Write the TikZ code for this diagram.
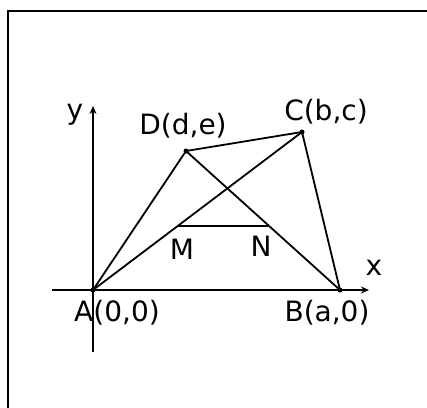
\documentclass[tikz,border=0pt]{standalone}
\usepackage{fontspec}
\setmainfont{DejaVu Sans}
\usetikzlibrary{arrows.meta, positioning}

\begin{document}
\begin{tikzpicture}[x=1pt, y=-1pt, >={Stealth[length=8pt, width=7pt]},
    edge/.style={line width=1.8pt},
    axis/.style={line width=2.2pt},
    lbl/.style={font=\fontsize{28}{30}\selectfont, inner sep=0pt}]

    % --- Canvas and frame ---
    \useasboundingbox (0,0) rectangle (427,407);
    \clip (0,0) rectangle (427,407);
    \draw[line width=1.8pt] (8,11) rectangle (440,420);

    % --- Points ---
    \coordinate (A) at (93,290);
    \coordinate (B) at (340,290);
    \coordinate (C) at (302,132);
    \coordinate (D) at (186,151);
    \coordinate (M) at (178,226);
    \coordinate (N) at (268,226);

    % --- Axes ---
    \coordinate (xl) at (52,290);
    \coordinate (xr) at (369,290);
    \coordinate (yb) at (93,352);
    \coordinate (yt) at (93,106);
    \draw[axis, ->] (xl) -- (xr);
    \draw[axis, ->] (yb) -- (yt);
    \node[lbl] (ylab) at (75,115) {y};
    \node[lbl] (xlab) at (374,268) {x};

    % --- Quadrilateral and diagonals ---
    \draw[edge] (A) -- (D) -- (C) -- (B);
    \draw[edge] (A) -- (C);
    \draw[edge] (D) -- (B);
    \draw[edge] (M) -- (N);

    % Vertex dots
    \foreach \p in {A, B, C, D} {
      \fill (\p) circle (2.5pt);
    }

    % --- Labels ---
    \node[lbl] (Alab) at (117,313) {A(0,0)};
    \node[lbl] (Blab) at (327,313) {B(a,0)};
    \node[lbl] (Clab) at (326,112) {C(b,c)};
    \node[lbl] (Dlab) at (183,126) {D(d,e)};
    \node[lbl] (Mlab) at (182,249) {M};
    \node[lbl] (Nlab) at (261,246) {N};

\end{tikzpicture}
\end{document}
